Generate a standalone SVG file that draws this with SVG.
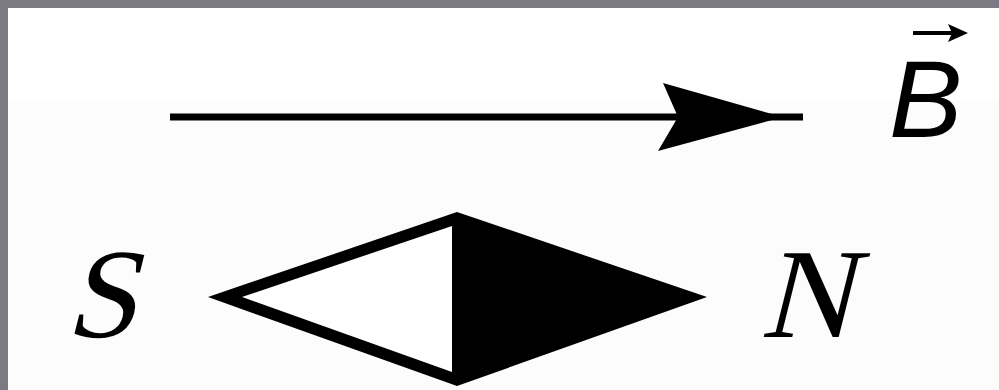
<svg xmlns="http://www.w3.org/2000/svg" width="999" height="390" viewBox="0 0 999 390">
  <style>
    .frame { fill: #7b7981; }
    .ink { fill: #000; }
    .line { stroke: #000; stroke-width: 7; fill: none; }
    .serif { font-family: "Liberation Serif", "Times New Roman", serif; font-size: 128px; fill: #000; }
    .sans { font-family: "Liberation Sans", Arial, sans-serif; font-style: italic; font-size: 110px; fill: #000; }
  </style>
  <rect x="0" y="0" width="999" height="390" fill="#ffffff"/>
  <rect x="8" y="100" width="991" height="290" fill="#fcfcfc"/>
  <rect x="0" y="0" width="999" height="8" class="frame"/>
  <rect x="0" y="0" width="8" height="390" class="frame"/>

  <g id="connectors">
    <line x1="170" y1="117" x2="803" y2="117" class="line"/>
    <polygon class="ink" points="663,83 772,114 772,120 658,151 678,117"/>
  </g>

  <g id="label-B">
    <text x="889" y="137" class="sans">B</text>
    <line x1="913" y1="33" x2="955" y2="33" stroke="#000" stroke-width="4"/>
    <polygon class="ink" points="948,24 968,33 948,42 952,33"/>
  </g>

  <g id="needle">
    <polygon class="ink" points="208,297 457,212 707,297 457,386"/>
    <polygon fill="#ffffff" points="242,297 452,226 452,372"/>
  </g>

  <g id="label-S" transform="translate(65,337) skewX(-14)">
    <text x="0" y="0" class="serif">S</text>
  </g>

  <g id="label-N" transform="translate(760,337) skewX(-14)">
    <text x="0" y="0" class="serif">N</text>
  </g>
</svg>
